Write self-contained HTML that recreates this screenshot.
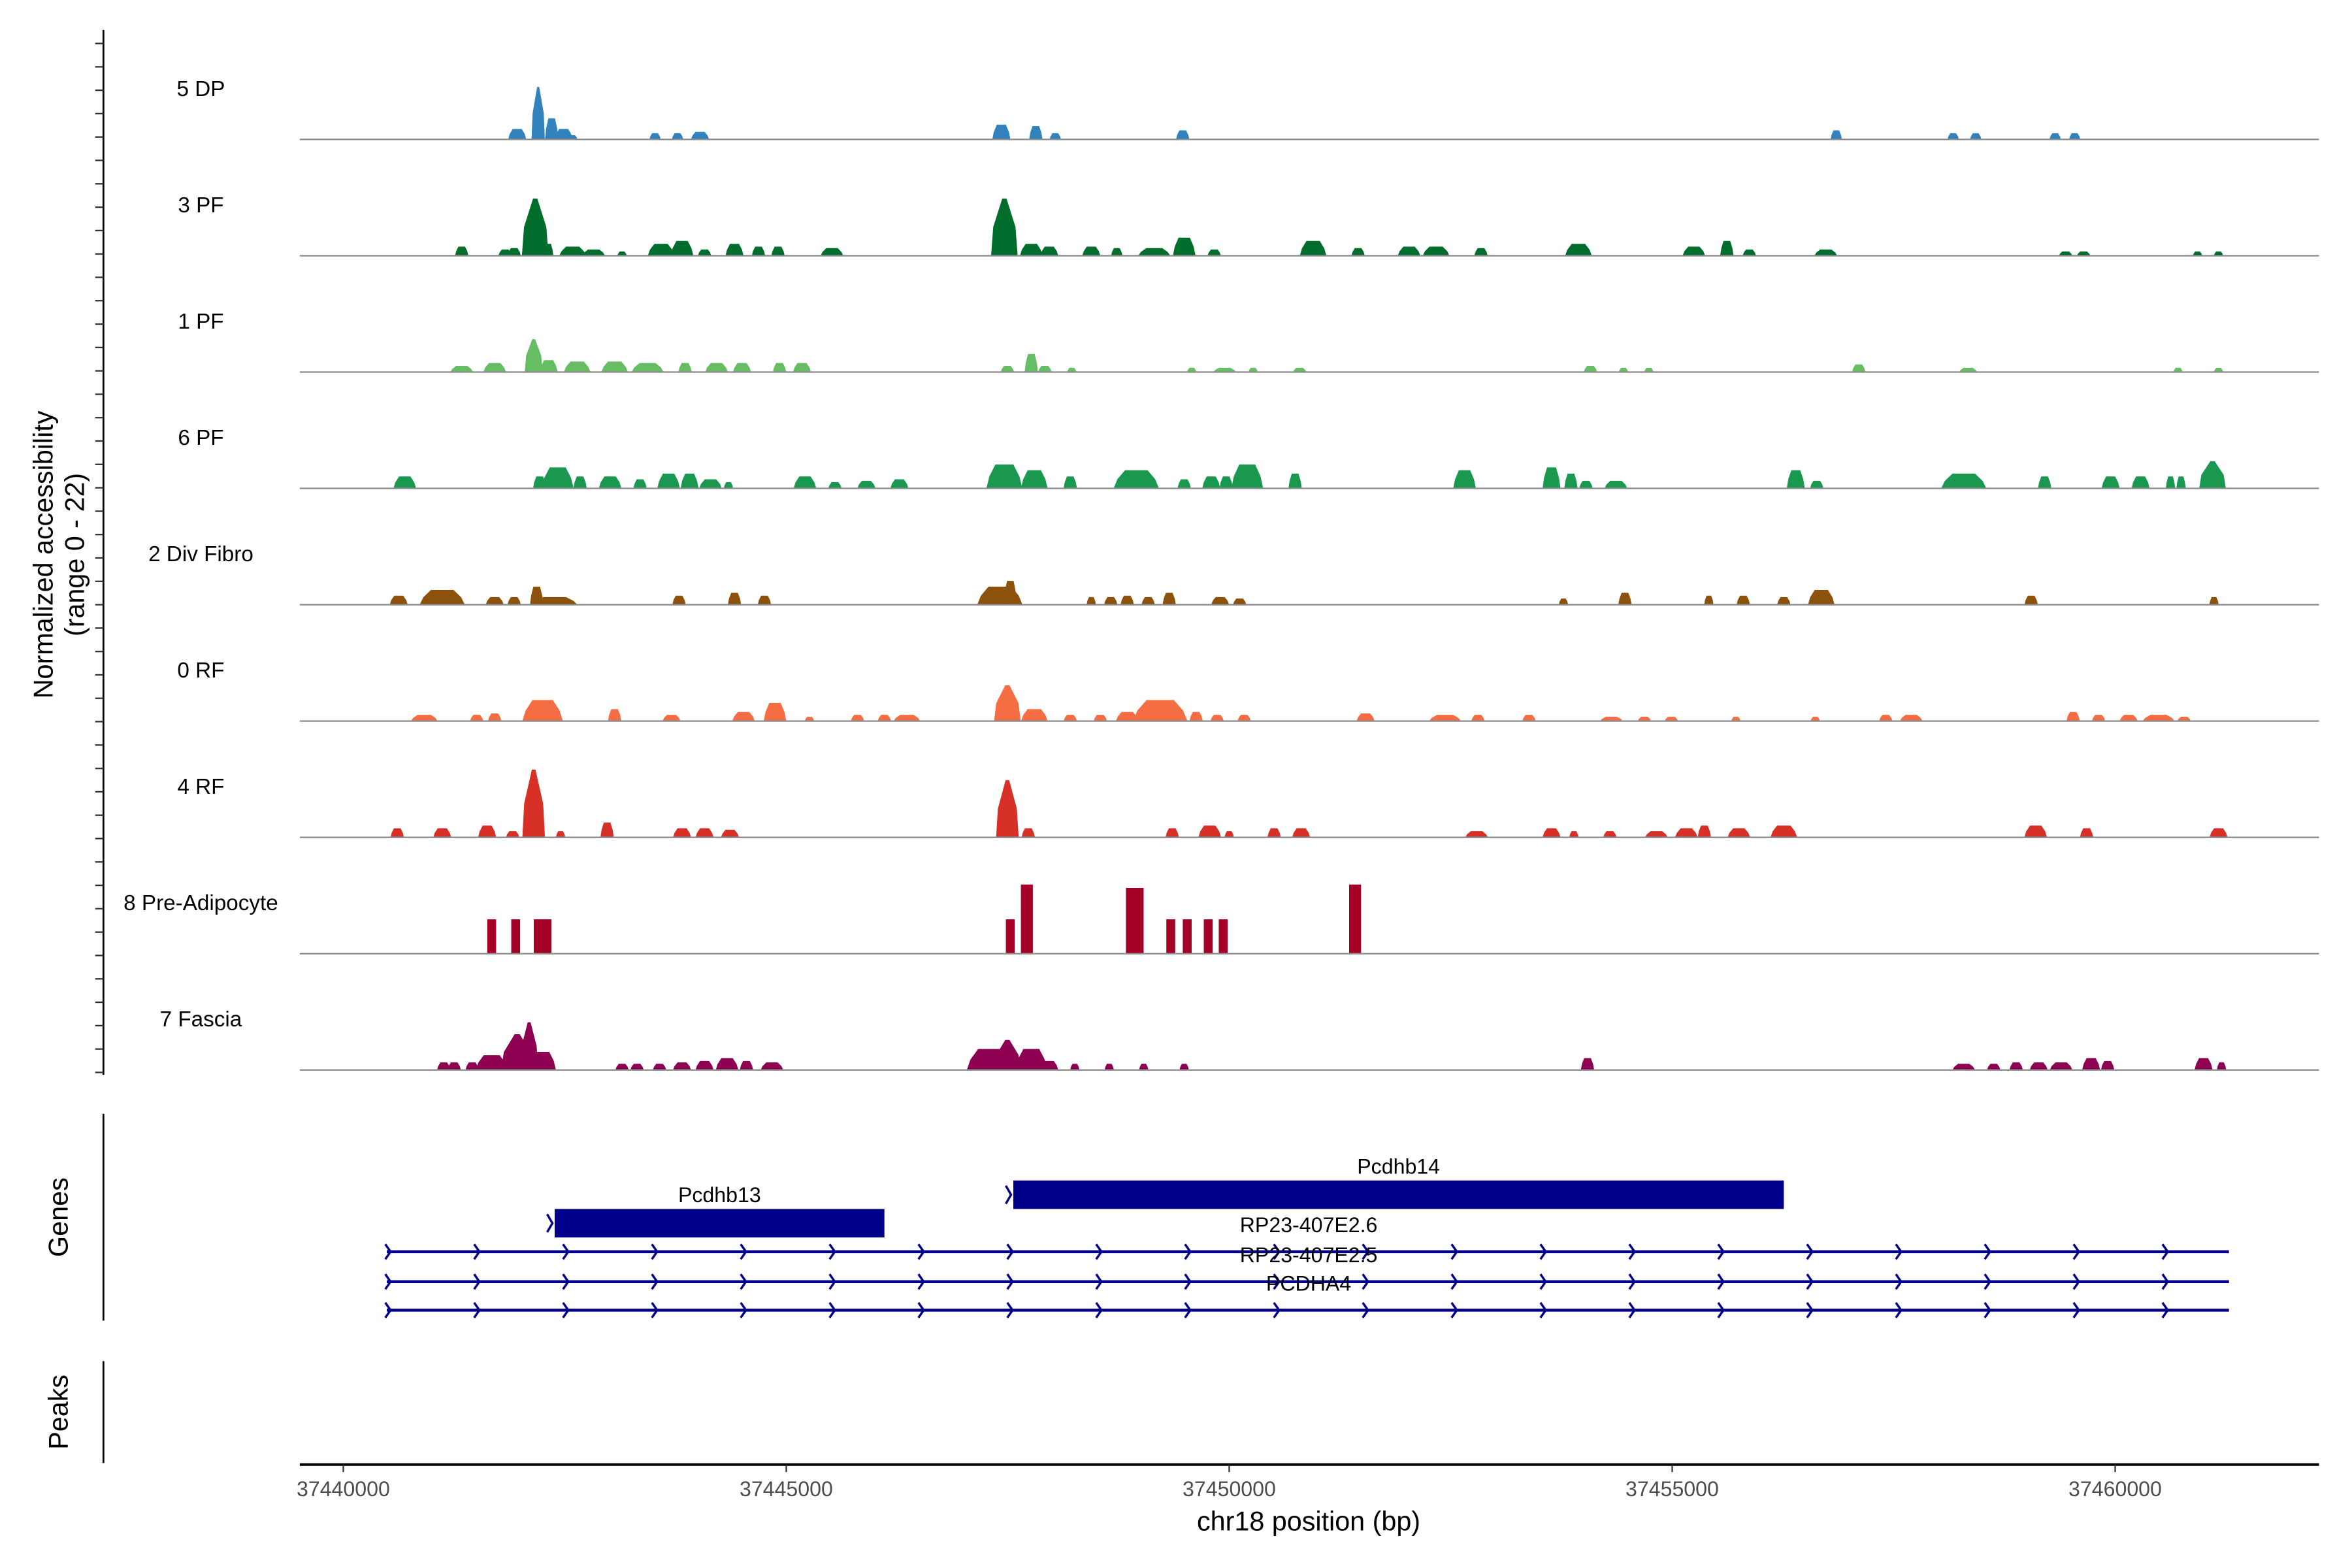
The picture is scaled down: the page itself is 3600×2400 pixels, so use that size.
<!DOCTYPE html>
<html><head><meta charset="utf-8"><style>
html,body{margin:0;padding:0;background:#fff;}
svg{display:block;font-family:"Liberation Sans",Arial,sans-serif;}
</style></head><body>
<svg id="chart" width="3600" height="2400" viewBox="0 0 1569 1046" preserveAspectRatio="none" xmlns="http://www.w3.org/2000/svg">
<rect x="0" y="0" width="1569" height="1046" fill="#fff"/>
<g id="tracks"></g>
<g id="yaxis"></g>
<text transform="translate(35,370) rotate(-90)" text-anchor="middle" font-size="18">Normalized accessibility</text>
<text transform="translate(56,370) rotate(-90)" text-anchor="middle" font-size="18">(range 0 - 22)</text>
<line x1="69" y1="743" x2="69" y2="881" stroke="#000" stroke-width="1.2"/>
<text transform="translate(45,812) rotate(-90)" text-anchor="middle" font-size="18">Genes</text>
<g id="genes"></g>
<line x1="69" y1="908" x2="69" y2="976" stroke="#000" stroke-width="1.2"/>
<text transform="translate(45,942) rotate(-90)" text-anchor="middle" font-size="18">Peaks</text>
<g id="xaxis"></g>
<text x="873" y="1021" text-anchor="middle" font-size="18">chr18 position (bp)</text>
</svg>
<script>
const NS="http://www.w3.org/2000/svg";
// ---- data ----
const trackNames=["5 DP","3 PF","1 PF","6 PF","2 Div Fibro","0 RF","4 RF","8 Pre-Adipocyte","7 Fascia"];
const trackColors=["#3182bd","#006d2c","#66bd63","#1a9850","#8c510a","#f46d43","#d73027","#a50026","#8e0152"];
const xTicks=[37440000,37445000,37450000,37455000,37460000];
const xTickLabels=["37440000","37445000","37450000","37455000","37460000"];
const pos0=[37441963,37442200,37442352,37442487,37442589,37443519,37443773,37444027,37447428,37447817,37448037,37449475,37456852,37458172,37458426,37459323,37459543];
const val0=[2.2,11,4.4,2.2,0.9,1.3,1.3,1.6,3.1,2.8,1.3,1.9,1.9,1.3,1.3,1.3,1.3];
const wid0=[136,100,100,136,70,85,85,136,136,100,85,100,85,85,85,85,85];
const pos1=[37441337,37441827,37441929,37442166,37442318,37442589,37442826,37443147,37443587,37443824,37444078,37444416,37444687,37444907,37445516,37447462,37447766,37447969,37448443,37448731,37449154,37449492,37449831,37450947,37451455,37452030,37452335,37452842,37453942,37455245,37455617,37455871,37456734,37459441,37459644,37460930,37461167];
const val1=[1.9,1.3,1.6,12,2.5,1.9,1.3,0.9,2.5,3.1,1.3,2.5,1.9,1.9,1.6,12,2.5,1.9,1.9,1.6,1.6,3.8,1.3,3.1,1.6,1.9,1.9,1.6,2.5,1.9,3.1,1.3,1.3,0.9,0.9,0.9,0.9];
const wid1=[100,100,100,200,70,200,170,70,200,170,100,135,100,100,170,200,170,135,135,85,240,170,100,200,100,170,200,100,200,170,100,100,170,100,100,70,70];
const pos2=[37441337,37441709,37442149,37442318,37442640,37443063,37443435,37443858,37444213,37444501,37444924,37445178,37447496,37447766,37447919,37448223,37449577,37449949,37450270,37450795,37454077,37454450,37454737,37457106,37458341,37460710,37461167];
const val2=[1.3,1.9,6.9,2.5,2.2,2.2,1.9,1.9,1.9,1.9,1.9,1.9,1.3,3.8,1.3,0.9,0.9,0.9,0.9,0.9,1.3,0.9,0.9,1.6,0.9,0.9,0.9];
const wid2=[170,170,135,135,200,200,240,100,170,135,100,135,100,100,100,70,70,170,70,100,100,70,70,100,135,70,70];
const pos3=[37440694,37442217,37442420,37442673,37443012,37443350,37443672,37443909,37444145,37444348,37445211,37445550,37445905,37446277,37447462,37447800,37448206,37448951,37449492,37449797,37449966,37450203,37450744,37452656,37453638,37453857,37454027,37454365,37456395,37456632,37458291,37459204,37459949,37460287,37460625,37460744,37461099];
const val3=[2.5,2.5,4.4,2.5,2.5,1.9,3.1,3.1,1.9,1.3,2.5,1.3,1.6,1.9,5,3.8,2.5,3.8,1.9,2.5,2.5,5,3.1,3.8,4.4,3.1,1.6,1.6,3.8,1.6,3.1,2.5,2.5,2.5,2.5,2.5,5.7];
const wid3=[170,100,240,100,170,100,170,135,170,70,170,100,135,135,270,200,100,340,100,135,100,240,100,170,135,100,100,170,135,100,340,100,135,135,70,70,200];
const pos4=[37440626,37441117,37441709,37441929,37442183,37442386,37443790,37444416,37444754,37447411,37447529,37448443,37448663,37448849,37449086,37449323,37449898,37450118,37453773,37454467,37455414,37455803,37456260,37456683,37459052,37461116];
const val4=[1.9,3.1,1.6,1.6,3.8,1.6,1.9,2.5,1.9,3.8,5,1.6,1.6,1.9,1.6,2.5,1.6,1.3,1.3,2.5,1.9,1.9,1.6,3.1,1.9,1.6];
const wid4=[135,340,135,100,100,340,100,100,100,340,100,70,100,100,100,100,135,100,70,100,70,100,100,200,100,70];
const pos5=[37440914,37441506,37441709,37442250,37443063,37443705,37444518,37444873,37445262,37445804,37446108,37446362,37447496,37447800,37448206,37448545,37448849,37449221,37449627,37449864,37450169,37451539,37452436,37452808,37453384,37454314,37454687,37454991,37455719,37456615,37457411,37457698,37459526,37459813,37460152,37460490,37460778];
const val5=[1.3,1.3,1.6,4.4,2.5,1.3,1.9,3.8,0.9,1.3,1.3,1.3,7.5,2.5,1.3,1.3,1.9,4.4,1.9,1.3,1.3,1.6,1.3,1.3,1.3,0.9,0.9,0.9,0.9,0.9,1.3,1.3,1.9,1.3,1.3,1.3,0.9];
const wid5=[200,100,100,305,100,135,170,170,70,100,100,200,200,200,100,100,170,410,100,100,100,135,240,100,100,170,100,100,70,70,100,170,100,100,135,240,100];
const pos6=[37440609,37441117,37441624,37441912,37442149,37442453,37442978,37443824,37444078,37444365,37447496,37447732,37449357,37449780,37450000,37450507,37450812,37452792,37453638,37453891,37454297,37454822,37455160,37455363,37455753,37456260,37459103,37459678,37461167];
const val6=[1.9,1.9,2.5,1.3,14.2,1.3,3.1,1.9,1.9,1.6,12,1.9,1.9,2.5,1.3,1.9,1.9,1.3,1.9,1.3,1.3,1.3,1.9,2.5,1.9,2.5,2.5,1.9,1.9];
const wid6=[100,135,135,100,170,70,100,135,135,135,170,100,100,170,70,100,135,170,135,70,100,170,170,100,170,200,170,100,135];
const pos7=[37441675,37441946,37442250,37447529,37447716,37448934,37449340,37449526,37449763,37449932,37451421];
const val7=[7.2,7.2,7.2,7.2,14.5,13.8,7.2,7.2,7.2,7.2,14.5];
const wid7=[100,100,200,100,135,200,100,100,100,100,135];
const pos8=[37441134,37441252,37441455,37441675,37441963,37442098,37442250,37443147,37443316,37443570,37443824,37444078,37444332,37444551,37444839,37447293,37447496,37447766,37447969,37448257,37448646,37449035,37449492,37454044,37458291,37458629,37458883,37459137,37459390,37459729,37459915,37460998,37461201];
const val8=[1.6,1.6,1.6,3.1,7.5,10,3.8,1.3,1.3,1.3,1.6,1.9,2.5,1.9,1.6,4.4,6.3,4.4,1.9,1.3,1.3,1.3,1.3,2.5,1.3,1.3,1.6,1.6,1.6,2.5,1.9,2.5,1.6];
const wid8=[100,100,100,240,240,135,200,100,100,100,135,135,170,100,170,340,200,240,135,70,70,70,70,100,170,100,100,135,170,135,100,135,70];
const trackPos=[pos0,pos1,pos2,pos3,pos4,pos5,pos6,pos7,pos8];
const trackVal=[val0,val1,val2,val3,val4,val5,val6,val7,val8];
const trackWid=[wid0,wid1,wid2,wid3,wid4,wid5,wid6,wid7,wid8];
const geneNames=["Pcdhb14","Pcdhb13"];
const geneStarts=[37447563,37442386];
const geneEnds=[37456260,37446108];
const txNames=["RP23-407E2.6","RP23-407E2.5","PCDHA4"];
const txStart=37440491, txEnd=37461285;
// ---- scales ----
const X0=229, PXPERBP=295.5/5000;
function xs(bp){return X0+(bp-37440000)*PXPERBP;}
const BASE0=93, TRACKSTEP=77.6, YMAX=22, TRACKH=70;
function ys(v,i){return BASE0+i*TRACKSTEP - v/YMAX*TRACKH;}
function mk(tag,attrs,parent){const e=document.createElementNS(NS,tag);for(const k in attrs)e.setAttribute(k,attrs[k]);parent.appendChild(e);return e;}
// ---- tracks ----
const tg=document.getElementById('tracks');
for(let i=0;i<trackNames.length;i++){
  const g=mk('g',{},tg);
  
  
  const base=ys(0,i);
  const lab=mk('text',{x:134,y:base-29,'text-anchor':'middle','font-size':14.5},g);
  lab.textContent=trackNames[i];
  
  
  const P=trackPos[i],V=trackVal[i],W=trackWid[i];
  for(let j=0;j<P.length;j++){
    const ww=(i===7)?W[j]:W[j]*1.5;
    const l=xs(P[j]-ww/2), r=xs(P[j]+ww/2), t=ys(V[j],i);
    let pts;
    if(i===7){pts=[[l,base],[l,t],[r,t],[r,base]];}
    else{const c=xs(P[j]), big=V[j]>5, hw=(r-l)*(big?0.08:0.25);pts=[[l,base],[l+(r-l)*0.08,base-(base-t)*0.5],[c-hw,t],[c+hw,t],[r-(r-l)*0.08,base-(base-t)*0.5],[r,base]];}
    const p=mk('polygon',{points:pts.map(q=>q[0].toFixed(2)+','+q[1].toFixed(2)).join(' '),fill:trackColors[i]},g);
    
    
  }
  const bl=mk('line',{x1:200,x2:1547,y1:base,y2:base,stroke:'#8c8c8c','stroke-width':1},g);
  
  
}
// ---- y axis ----
const ya=document.getElementById('yaxis');
mk('line',{x1:69,y1:20,x2:69,y2:717,stroke:'#000','stroke-width':1.2},ya);
for(let y=29;y<=716;y+=15.6){mk('line',{x1:63.5,x2:69,y1:y,y2:y,stroke:'#333','stroke-width':1},ya);}
// ---- genes ----
const gg=document.getElementById('genes');
const col="#00008b";
function chevron(x,y,h,parent){mk('polyline',{points:(x-2)+','+(y-h)+' '+(x+1.5)+','+y+' '+(x-2)+','+(y+h),fill:'none',stroke:col,'stroke-width':1.5},parent);}
const geneY=[797,816], geneLabY=[783,802];
for(let k=0;k<geneNames.length;k++){
  const g=mk('g',{},gg);
  
  
  const x1=xs(geneStarts[k]),x2=xs(geneEnds[k]);
  mk('rect',{x:x1,y:geneY[k]-9.5,width:x2-x1,height:19,fill:col},g);
  chevron(x1-3,geneY[k],6,g);
  const t=mk('text',{x:(x1+x2)/2,y:geneLabY[k],'text-anchor':'middle','font-size':14},g);
  t.textContent=geneNames[k];
}
const txY=[835,855,874];
for(let k=0;k<3;k++){
  const g=mk('g',{},gg);
  
  
  mk('line',{x1:xs(txStart),x2:xs(txEnd),y1:txY[k],y2:txY[k],stroke:col,'stroke-width':2},g);
  for(let b=txStart;b<=txEnd;b+=1003){chevron(xs(b)+1,txY[k],5,g);}
}
const txLabY=[822,842,861];
for(let k=0;k<3;k++){
  const t=mk('text',{x:873,y:txLabY[k],'text-anchor':'middle','font-size':14},gg);
  t.textContent=txNames[k];
  
  
}
// ---- x axis ----
const xa=document.getElementById('xaxis');
mk('line',{x1:200,x2:1547,y1:977,y2:977,stroke:'#000','stroke-width':1.8},xa);
for(let k=0;k<xTicks.length;k++){
  const x=xs(xTicks[k]);
  mk('line',{x1:x,x2:x,y1:977,y2:982,stroke:'#333','stroke-width':1},xa);
  const t=mk('text',{x:x,y:998,'text-anchor':'middle','font-size':14,fill:'#4d4d4d'},xa);
  t.textContent=xTickLabels[k];
  
  
}
</script>
</body></html>
